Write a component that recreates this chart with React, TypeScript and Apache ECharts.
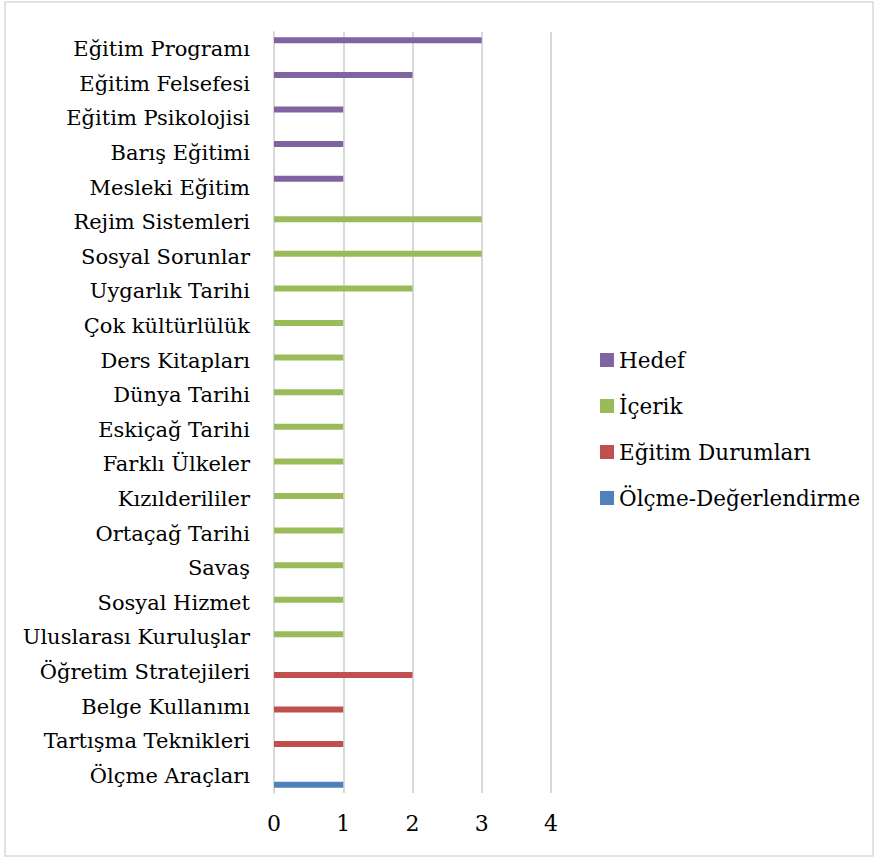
import React, { useEffect, useRef } from "react";
import * as echarts from "echarts";

const categories = [
  "Eğitim Programı",
  "Eğitim Felsefesi",
  "Eğitim Psikolojisi",
  "Barış Eğitimi",
  "Mesleki Eğitim",
  "Rejim Sistemleri",
  "Sosyal Sorunlar",
  "Uygarlık Tarihi",
  "Çok kültürlülük",
  "Ders Kitapları",
  "Dünya Tarihi",
  "Eskiçağ Tarihi",
  "Farklı Ülkeler",
  "Kızılderililer",
  "Ortaçağ Tarihi",
  "Savaş",
  "Sosyal Hizmet",
  "Uluslarası Kuruluşlar",
  "Öğretim Stratejileri",
  "Belge Kullanımı",
  "Tartışma Teknikleri",
  "Ölçme Araçları",
];

const hedef = [3, 2, 1, 1, 1, null, null, null, null, null, null, null, null, null, null, null, null, null, null, null, null, null];
const icerik = [null, null, null, null, null, 3, 3, 2, 1, 1, 1, 1, 1, 1, 1, 1, 1, 1, null, null, null, null];
const egitimDurumlari = [null, null, null, null, null, null, null, null, null, null, null, null, null, null, null, null, null, null, 2, 1, 1, null];
const olcme = [null, null, null, null, null, null, null, null, null, null, null, null, null, null, null, null, null, null, null, null, null, 1];

const seriesNames = ["Hedef", "İçerik", "Eğitim Durumları", "Ölçme-Değerlendirme"];
const seriesData = [hedef, icerik, egitimDurumlari, olcme];
const colors = ["#8064A2", "#9BBB59", "#C0504D", "#4F81BD"];
const xTicks = { min: 0, max: 4, interval: 1 };

const FONT = "DejaVu Serif";

export default function App() {
  const ref = useRef<HTMLDivElement>(null);
  useEffect(() => {
    if (!ref.current) return;
    const chart = echarts.init(ref.current, undefined, { renderer: "svg" });
    chart.setOption({
      animation: false,
      backgroundColor: "#ffffff",
      color: colors,
      textStyle: { fontFamily: FONT, color: "#000" },
      graphic: [
        {
          type: "rect",
          shape: { x: 5, y: 2, width: 868, height: 854 },
          style: { fill: "none", stroke: "#d9d9d9", lineWidth: 1.5 },
          silent: true,
        },
      ],
      grid: { left: 274, right: 324, top: 32, bottom: 65, containLabel: false },
      legend: {
        orient: "vertical",
        left: 600,
        top: 347,
        padding: 0,
        icon: "rect",
        itemWidth: 14,
        itemHeight: 14,
        itemGap: 20,
        data: seriesNames,
        textStyle: { fontFamily: FONT, fontSize: 21.5, color: "#000", lineHeight: 26 },
        selectedMode: false,
      },
      xAxis: {
        type: "value",
        min: xTicks.min,
        max: xTicks.max,
        interval: xTicks.interval,
        axisLine: { show: false },
        axisTick: { show: false },
        splitLine: { show: true, lineStyle: { color: "#d9d9d9", width: 2 } },
        axisLabel: { fontFamily: FONT, fontSize: 22, color: "#000", margin: 19 },
      },
      yAxis: {
        type: "category",
        inverse: true,
        data: categories,
        axisLine: { show: true, lineStyle: { color: "#d9d9d9", width: 2 } },
        axisTick: { show: false },
        splitLine: { show: false },
        axisLabel: { fontFamily: FONT, fontSize: 21, color: "#000", margin: 24, interval: 0 },
      },
      series: seriesNames.map((name, i) => ({
        name,
        type: "bar",
        data: seriesData[i],
        barWidth: 6,
        barGap: "0%",
        itemStyle: { color: colors[i] },
        emphasis: { disabled: true },
      })),
    });
    return () => chart.dispose();
  }, []);
  return (
    <div
      ref={ref}
      style={{ position: "absolute", left: 0, top: 0, width: 875, height: 858 }}
    />
  );
}
